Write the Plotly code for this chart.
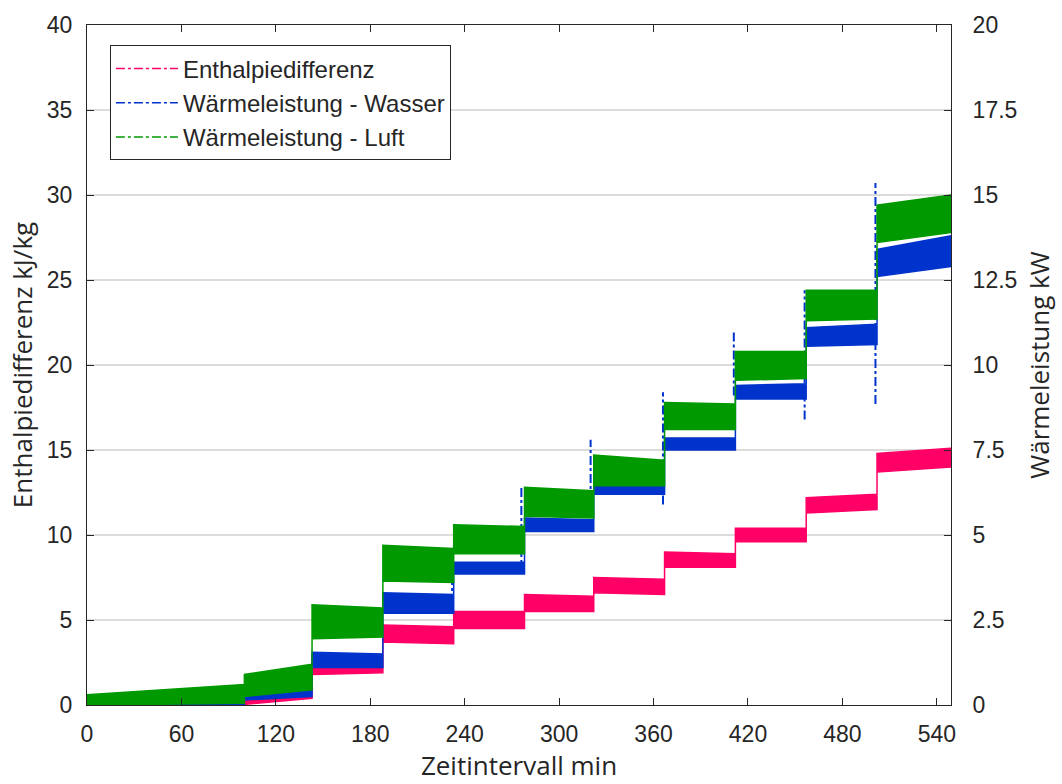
import plotly.graph_objects as go

# ---------------- data ----------------
# Each series: time points (min) with lower / upper edge of the noisy band.
# Repeated times mark the step changes of the test programme.

# Enthalpiedifferenz (left axis, kJ/kg)
pink_t = [96, 143, 143, 188, 188, 233, 233, 278, 278, 322, 322, 367, 367, 412, 412, 457, 457, 502, 502, 549]
pink_lo = [0.0, 0.4, 1.8, 1.9, 3.7, 3.6, 4.5, 4.5, 5.5, 5.5, 6.6, 6.5, 8.1, 8.1, 9.6, 9.6, 11.3, 11.5, 13.7, 14.0]
pink_hi = [0.6, 1.3, 2.9, 2.8, 4.7, 4.6, 5.5, 5.5, 6.5, 6.4, 7.5, 7.4, 9.0, 8.9, 10.4, 10.4, 12.2, 12.4, 14.8, 15.1]

# Wärmeleistung - Wasser (right axis, kW)
blue_t = [0, 100, 100, 143, 143, 188, 188, 233, 233, 278, 278, 322, 322, 367, 367, 412, 412, 457, 457, 502, 502, 549]
blue_lo = [0.0, 0.0, 0.15, 0.25, 1.1, 1.1, 2.7, 2.7, 3.85, 3.85, 5.1, 5.1, 6.2, 6.2, 7.5, 7.5, 9.0, 9.0, 10.55, 10.6, 12.6, 12.9]
blue_hi = [0.08, 0.15, 0.5, 0.7, 1.55, 1.5, 3.3, 3.25, 4.2, 4.2, 5.5, 5.45, 6.6, 6.55, 7.85, 7.85, 9.4, 9.45, 11.1, 11.2, 13.4, 13.8]

# transient spikes of the water heat flow at the step changes (kW)
spike_t = [232, 276, 320, 366, 411, 456, 501]
spike_lo = [3.0, 4.0, 6.0, 5.9, 9.1, 8.4, 8.85]
spike_hi = [3.85, 6.4, 7.8, 9.2, 11.0, 12.2, 15.35]

# Wärmeleistung - Luft (right axis, kW)
green_t = [0, 100, 100, 143, 143, 188, 188, 233, 233, 278, 278, 322, 322, 367, 367, 412, 412, 457, 457, 502, 502, 549]
green_lo = [0.0, 0.05, 0.25, 0.45, 1.95, 2.0, 3.65, 3.6, 4.45, 4.45, 5.55, 5.5, 6.45, 6.45, 8.1, 8.1, 9.55, 9.6, 11.3, 11.35, 13.6, 13.9]
green_hi = [0.3, 0.6, 0.9, 1.2, 2.95, 2.85, 4.7, 4.6, 5.3, 5.25, 6.4, 6.3, 7.35, 7.2, 8.9, 8.85, 10.4, 10.4, 12.2, 12.2, 14.7, 15.0]

names = ["Enthalpiedifferenz", "Wärmeleistung - Wasser", "Wärmeleistung - Luft"]
x_ticks = [0, 60, 120, 180, 240, 300, 360, 420, 480, 540]
y1_ticks = [0, 5, 10, 15, 20, 25, 30, 35, 40]
y2_ticks = [0, 2.5, 5, 7.5, 10, 12.5, 15, 17.5, 20]

PINK = "#ff0066"
BLUE = "#0033cc"
GREEN = "#009900"
AX = "#262626"


def band(t, lo, hi):
    xs = list(t) + list(reversed(t)) + [t[0]]
    ys = list(hi) + list(reversed(lo)) + [hi[0]]
    return xs, ys


fig = go.Figure()

px_, py_ = band(pink_t, pink_lo, pink_hi)
fig.add_trace(go.Scatter(x=px_, y=py_, mode="lines", fill="toself",
                         fillcolor=PINK, line=dict(color=PINK, width=1.5),
                         showlegend=False, hoverinfo="skip", yaxis="y"))

bx, by = band(blue_t, blue_lo, blue_hi)
fig.add_trace(go.Scatter(x=bx, y=by, mode="lines", fill="toself",
                         fillcolor=BLUE, line=dict(color=BLUE, width=1.5),
                         showlegend=False, hoverinfo="skip", yaxis="y2"))

sx, sy = [], []
for t, l, h in zip(spike_t, spike_lo, spike_hi):
    sx += [t, t, None]
    sy += [l, h, None]
fig.add_trace(go.Scatter(x=sx, y=sy, mode="lines",
                         line=dict(color=BLUE, width=2, dash="dashdot"),
                         showlegend=False, hoverinfo="skip", yaxis="y2"))

gx, gy = band(green_t, green_lo, green_hi)
fig.add_trace(go.Scatter(x=gx, y=gy, mode="lines", fill="toself",
                         fillcolor=GREEN, line=dict(color=GREEN, width=1.5),
                         showlegend=False, hoverinfo="skip", yaxis="y2"))

# legend entries (dash-dot line samples)
for i, (nm, col) in enumerate(zip(names, [PINK, BLUE, GREEN])):
    fig.add_trace(go.Scatter(x=[None], y=[None], mode="lines", name=nm,
                             legendgroup=str(i),
                             line=dict(color=col, width=1.5, dash="dashdot"),
                             yaxis="y" if i == 0 else "y2"))

tickfont = dict(family="Liberation Sans, Arial, sans-serif", size=23, color=AX)
titlefont = dict(family="Open Sans, sans-serif", size=26, color=AX)

fig.update_layout(
    width=1062, height=784,
    margin=dict(l=87, r=108, t=19, b=79),
    paper_bgcolor="white", plot_bgcolor="white",
    showlegend=True,
    legend=dict(x=0.0265, y=0.97, xanchor="left", yanchor="top",
                bgcolor="white", bordercolor=AX, borderwidth=1,
                font=dict(family="Liberation Sans, Arial, sans-serif", size=24, color=AX),
                tracegroupgap=0, itemwidth=62, traceorder="normal"),
    xaxis=dict(range=[0, 549], tickvals=x_ticks, ticks="inside", ticklen=7,
               tickcolor=AX, showline=True, linecolor=AX, linewidth=1,
               mirror="ticks", showgrid=False, zeroline=False,
               tickfont=tickfont, ticklabelstandoff=8,
               title=dict(text="Zeitintervall min", font=titlefont, standoff=6)),
    yaxis=dict(range=[0, 40], tickvals=y1_ticks, ticks="inside", ticklen=7,
               tickcolor=AX, showline=True, linecolor=AX, linewidth=1,
               showgrid=True, gridcolor="#dcdcdc", gridwidth=1.5,
               zeroline=False, tickfont=tickfont, ticklabelstandoff=9,
               title=dict(text="Enthalpiedifferenz kJ/kg", font=titlefont, standoff=6)),
    yaxis2=dict(range=[0, 20], tickvals=y2_ticks, overlaying="y", side="right",
                ticks="inside", ticklen=7, tickcolor=AX, showline=True,
                linecolor=AX, linewidth=1, showgrid=False, zeroline=False,
                tickfont=tickfont, ticklabelstandoff=16,
                title=dict(text="Wärmeleistung kW", font=titlefont, standoff=14)),
)

fig.write_html("out.html")
